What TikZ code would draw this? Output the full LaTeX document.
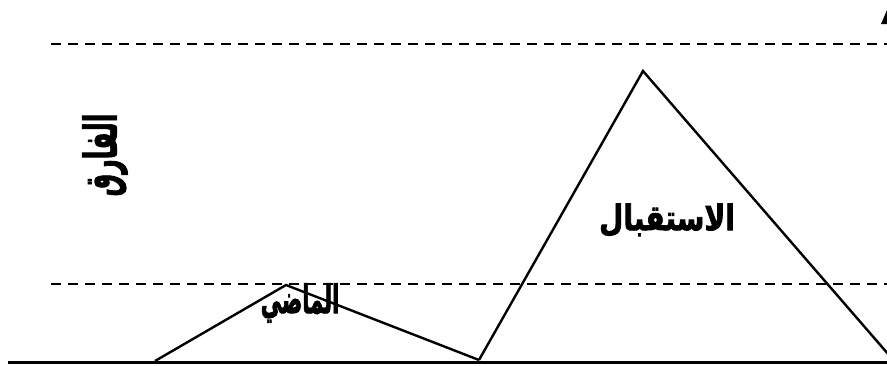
\documentclass[tikz,border=0pt]{standalone}
\usepackage{fontspec}
\newfontfamily\arabicfont[Script=Arabic, BoldFeatures={FakeBold=2.5}]{DejaVu Sans}
\TeXXeTstate=1
\usetikzlibrary{calc}
\tikzset{
    ground/.style={line width=3},
    level/.style={line width=2.6, dash pattern=on 10pt off 7pt},
    side/.style={line width=2.4, line join=miter},
    word/.style={font=\arabicfont\bfseries\fontsize{28}{32}\selectfont, inner sep=0},
}
\newcommand{\narrow}[3]{\scalebox{#1}[#2]{\beginR #3\endR}}

\begin{document}
\begin{tikzpicture}[x=1pt, y=-1pt]
    \useasboundingbox (0, 0) rectangle (887, 365);
    % ground and the two levels
    \coordinate (g0) at (8, 362);
    \coordinate (g1) at (887, 362);
    \draw [ground] (g0) -- (g1);
    \coordinate (hi0) at (51, 44);
    \coordinate (hi1) at (887, 44);
    \coordinate (lo0) at (51, 284);
    \coordinate (lo1) at (887, 284);
    \draw [level] (hi0) -- (hi1);
    \draw [level] (lo0) -- (lo1);
    % past
    \coordinate (pastL) at (155, 361);
    \coordinate (pastT) at (286, 285);
    \coordinate (pastR) at (479, 360);
    \draw [side] (pastL) -- (pastT) -- (pastR);
    \node [word] (past) at (300, 303) {\narrow{0.75}{1.4}{الماضي}};
    % future
    \coordinate (futL) at (479, 360);
    \coordinate (futT) at (643, 71);
    \coordinate (futR) at (895, 362);
    \draw [side] (futL) -- (futT) -- (futR);
    \node [word] (fut) at (667, 220) {\narrow{1}{1.25}{الاستقبال}};
    % gap
    \node [word, rotate=90] (gap) at (105, 155) {\narrow{0.9}{1.6}{الفارق}};
    % arrow tip, cut by the edge
    \coordinate (tipL) at (881, 24);
    \coordinate (tipT) at (890, 3);
    \coordinate (tipR) at (899, 24);
    \fill (tipL) -- (tipT) -- (tipR) -- cycle;
\end{tikzpicture}
\end{document}
